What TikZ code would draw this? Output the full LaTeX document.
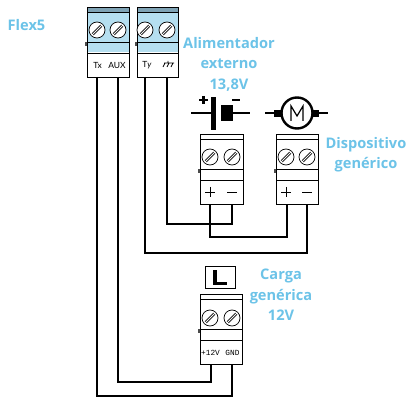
\documentclass[tikz,border=0pt]{standalone}
\usepackage{fontspec}
\setmainfont{Lato}
\newfontfamily\labf{Open Sans}
\newfontfamily\monof{Liberation Mono}
\definecolor{lbl}{HTML}{6CC3E8}
\definecolor{blk}{HTML}{B5DFF0}
\definecolor{band}{HTML}{7FA3B5}
\tikzset{
 wire/.style={draw=black,line width=1.9pt,line join=miter},
 lab/.style={text=lbl,font=\labf\bfseries\fontsize{14.6}{20.6}\selectfont,align=center,inner sep=0pt},
 pinlab/.style={font=\fontsize{8.5}{9}\selectfont,inner sep=0pt},
 monolab/.style={font=\monof\fontsize{7.8}{8}\selectfont,inner sep=0pt},
}
\newcommand{\screw}[2]{%
 \draw[line width=.7pt,fill=white] (#1,#2) circle (8);
 \draw[line width=.7pt] (#1-5,#2+3.6) -- (#1+3.6,#2-5) (#1-3.6,#2+5) -- (#1+5,#2-3.6);
}
\newcommand{\block}[5]{% x1, x2, top, fill, topband
 \pgfmathsetmacro{\yb}{#3+70.5}
 \fill[#4] (#1,#3) rectangle (#2,#3+45.5);
 \fill[#5] (#1,#3) rectangle (#2,#3+5);
 \fill[black!70] (#1-2,#3+35) rectangle (#1,#3+39);
 \draw[line width=.8pt] (#1,#3) rectangle (#2,\yb);
 \draw[line width=.8pt] (#1,#3+5.5) -- (#2,#3+5.5) (#1,#3+35.5) -- (#2,#3+35.5) (#1,#3+46) -- (#2,#3+46);
}
\begin{document}
\begin{tikzpicture}[x=1pt,y=-1pt]
\useasboundingbox (0,0) rectangle (412,398);
\fill[white] (0,0) rectangle (412,398);
% wires
\coordinate (txa) at (97,77); \coordinate (txb) at (232,365);
\coordinate (auxa) at (118,77); \coordinate (auxb) at (211,365);
\draw[wire] (txa) -- (97,396) -- (232,396) -- (txb);
\draw[wire] (auxa) -- (118,382) -- (211,382) -- (auxb);
\draw[wire] (145,77) -- (145,253) -- (307,253) -- (307,205);
\draw[wire] (167,77) -- (167,224) -- (232,224) -- (232,205);
\draw[wire] (210,205) -- (210,237) -- (287,237) -- (287,205);
% blocks
\block{87}{129}{7}{blk}{band}
\block{137}{178}{7}{blk}{band}
\block{200}{243}{134}{white}{white}
\block{276}{318}{134}{white}{white}
\block{200}{242}{294}{white}{white}
\screw{97}{30}\screw{118}{30}\screw{145}{30}\screw{167}{30}
\screw{210}{157}\screw{232}{157}\screw{286}{157}\screw{307}{157}
\screw{210}{318}\screw{232}{318}
% terminal labels
\node[pinlab] (tx) at (97.5,65) {Tx};
\node[pinlab] (aux) at (117,65) {AUX};
\node[pinlab] (ty) at (147,65) {T\textit{y}};
\draw[line width=.7pt] (163,67) -- (165,63) (167,67) -- (169,63) (171,67) -- (173,63) (164,63) -- (174,63) (168,61) -- (168,63);
\draw[line width=.8pt] (205,192) -- (215,192) (210,187) -- (210,197) (227,192) -- (237,192);
\draw[line width=.8pt] (281,192) -- (291,192) (286,187) -- (286,197) (302,192) -- (312,192);
\node[monolab] (p12) at (210.5,353) {+12V};
\node[monolab] (gnd) at (232.5,353) {GND};
% battery
\draw[line width=2.4pt] (191,113) -- (211,113) (233,113) -- (250,113);
\fill (211,97) rectangle (216,130);
\fill (221,105) rectangle (233,121);
\draw[line width=2.4pt] (199,100) -- (208,100) (203.5,96) -- (203.5,104) (232,100) -- (240,100);
% motor
\draw[line width=2.4pt] (265,113) -- (275,113) (313,113) -- (328,113);
\fill (274,110) rectangle (282,117);
\fill (313,110) rectangle (319,117);
\draw[line width=2.4pt,fill=white] (297,113) circle (15.5);
\draw[line width=1.2pt,line join=miter] (291,121) -- (291,106) -- (297,116) -- (303,106) -- (303,121);
% load
\node[draw,line width=1.9pt,minimum width=30pt,minimum height=22pt,inner sep=0pt] (lbox) at (220.5,277.5) {};
\draw[line width=3.6pt,line join=miter] (215,270) -- (215,283.5) -- (227,283.5);
% labels
\node[lab] (flex) at (26.5,25) {Flex5};
\node[lab,anchor=north] (al) at (229,37) {Alimentador\\externo\\13,8V};
\node[lab,anchor=north] (dis) at (366,137) {Dispositivo\\genérico};
\node[lab,anchor=north] (car) at (281,269) {Carga\\genérica\\12V};
\end{tikzpicture}
\end{document}
